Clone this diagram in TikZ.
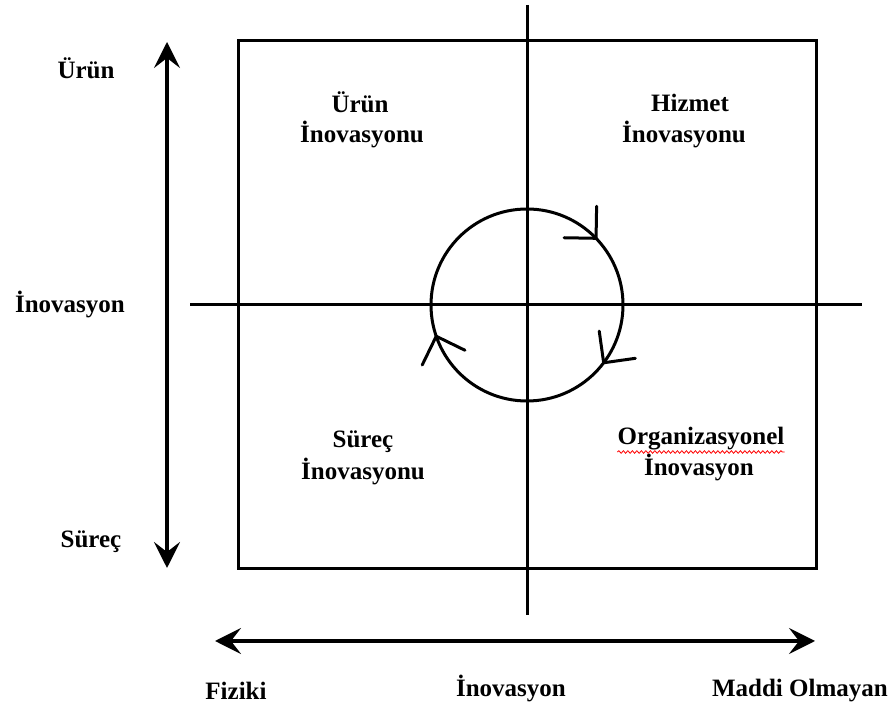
\documentclass[tikz,border=0pt]{standalone}
\usepackage{fontspec}
\setmainfont{Liberation Serif}
\usetikzlibrary{arrows.meta,decorations.pathmorphing}
\begin{document}
\begin{tikzpicture}[x=1bp,y=1bp,
  lbl/.style={inner sep=0pt,anchor=base,font=\fontsize{25bp}{30bp}\selectfont\bfseries},
  axis/.style={line width=3bp},
  dbl/.style={line width=3.2bp,{Stealth[length=26bp,width=26bp,inset=10bp]}-{Stealth[length=26bp,width=26bp,inset=10bp]}},
  vtip/.style={line width=3bp,line cap=round}]
\useasboundingbox (0,0) rectangle (888,711);
\fill[white] (0,0) rectangle (888,711);
% square and axes
\draw[axis] (238,142) rectangle (816,670);
\coordinate (vt) at (527,706); \coordinate (vb) at (527,96);
\coordinate (hl) at (190,406); \coordinate (hr) at (862,406);
\draw[axis] (vt) -- (vb);
\draw[axis] (hl) -- (hr);
% side arrows
\coordinate (lt) at (167,669); \coordinate (lb) at (167,143);
\draw[dbl] (lb) -- (lt);
\coordinate (bl) at (215,70); \coordinate (br) at (815,70);
\draw[dbl] (bl) -- (br);
% circle with open arrowheads (clockwise)
\coordinate (c) at (527,406);
\draw[axis] (c) circle[radius=96];
\begin{scope}[shift={(c)}]
  \draw[vtip,rotate=44] (73.4,22.6) -- (96,0) -- (118.6,22.6);
  \draw[vtip,rotate=-37] (73.4,22.6) -- (96,0) -- (118.6,22.6);
  \draw[vtip,rotate=199] (73.4,22.6) -- (96,0) -- (118.6,22.6);
\end{scope}
% left labels
\node[lbl] (urunL) at (86,632) {Ürün};
\node[lbl] (inovL) at (70,398) {İnovasyon};
\node[lbl] (surecL) at (91,163) {Süreç};
% quadrant labels
\node[lbl] (urun1) at (360,598) {Ürün};
\node[lbl] (urun2) at (362,568) {İnovasyonu};
\node[lbl] (hiz1) at (690,599) {Hizmet};
\node[lbl] (hiz2) at (684,568) {İnovasyonu};
\node[lbl] (sur1) at (363,263) {Süreç};
\node[lbl] (sur2) at (363,231) {İnovasyonu};
\node[lbl] (org1) at (701,266) {Organizasyonel};
\node[lbl] (org2) at (699,235) {İnovasyon};
\draw[red,line width=0.8bp,decorate,decoration={snake,amplitude=1.3bp,segment length=4.5bp}]
  ([yshift=-7bp]org1.base west) -- ([yshift=-7bp]org1.base east);
% bottom labels
\node[lbl] (fiz) at (236,11) {Fiziki};
\node[lbl] (inovB) at (511,14) {İnovasyon};
\node[lbl,anchor=base east] (madd) at (888,14) {Maddi Olmayan};
\end{tikzpicture}
\end{document}
